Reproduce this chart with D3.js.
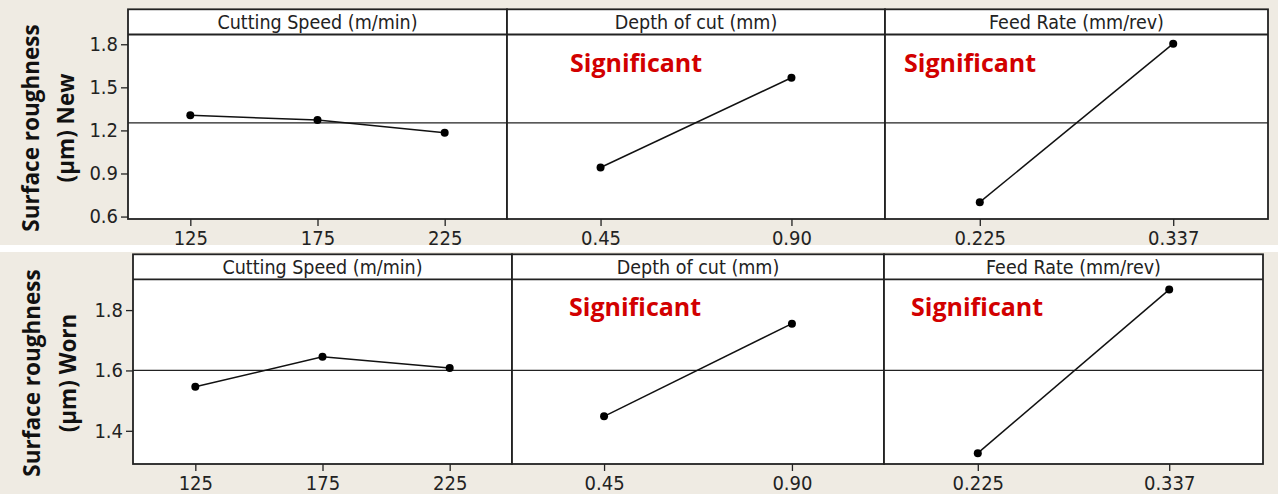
<!DOCTYPE html>
<html>
<head>
<meta charset="utf-8">
<script src="https://cdn.jsdelivr.net/npm/d3@7"></script>
<style>
	body { margin: 0; background: #efebe3; }
	svg { display: block; }
	.hdr { font-family: "DejaVu Sans Condensed", "DejaVu Sans", sans-serif; font-stretch: condensed; font-size: 19.5px; fill: #222; }
	.tick text { font-family: "DejaVu Sans Condensed", "DejaVu Sans", sans-serif; font-stretch: condensed; font-size: 20px; fill: #222; }
	.ytitle { font-family: "Open Sans", sans-serif; font-weight: bold; font-size: 22.5px; fill: #111; }
	.sig { font-family: "Open Sans", sans-serif; font-weight: bold; font-size: 25px; fill: #d20000; }
</style>
</head>
<body>
<svg id="chart" width="1278" height="494"></svg>
<script>
// factor names and their levels
var factors = ["Cutting Speed (m/min)", "Depth of cut (mm)", "Feed Rate (mm/rev)"];
var speedLevels = ["125", "175", "225"];
var depthLevels = ["0.45", "0.90"];
var feedLevels = ["0.225", "0.337"];
var significant = [false, true, true];

// means of surface roughness (um), new tool
var newSpeed = [1.305, 1.272, 1.183];
var newDepth = [0.942, 1.567];
var newFeed = [0.700, 1.804];
var newMean = 1.253;
var newTicks = [0.6, 0.9, 1.2, 1.5, 1.8];

// worn tool
var wornSpeed = [1.546, 1.645, 1.608];
var wornDepth = [1.448, 1.755];
var wornFeed = [1.326, 1.868];
var wornMean = 1.600;
var wornTicks = [1.4, 1.6, 1.8];

var levels = [speedLevels, depthLevels, feedLevels];

var rows = [
	{
		title: ["Surface roughness", "(\u00b5m) New"],
		values: [newSpeed, newDepth, newFeed], mean: newMean, ticks: newTicks,
		domain: [0.583, 1.868],
		edges: [128, 507, 885, 1268], top: 9.3, hdr: 34.5, bottom: 219,
		titleX: [38.5, 74], titleY: 128,
		sigX: [0, 63, 19], sigY: 71.7
	},
	{
		title: ["Surface roughness", "(\u00b5m) Worn"],
		values: [wornSpeed, wornDepth, wornFeed], mean: wornMean, ticks: wornTicks,
		domain: [1.29, 1.902],
		edges: [133, 512, 884, 1263], top: 254.3, hdr: 279.3, bottom: 464,
		titleX: [39.5, 76], titleY: 373,
		sigX: [0, 57, 27], sigY: 316
	}
];

var svg = d3.select("#chart");

// white gap between the two rows
svg.append("rect").attr("x", 0).attr("y", 245).attr("width", 1278).attr("height", 7).attr("fill", "#fff");

function drawRow(row) {
	var g = svg.append("g");
	var y = d3.scaleLinear().domain(row.domain).range([row.bottom, row.hdr]);

	for (var i = 0; i<2; i++) {
		g.append("text")
			.attr("class", "ytitle")
			.attr("text-anchor", "middle")
			.attr("transform", "translate(" + row.titleX[i] + "," + row.titleY + ") rotate(-90)")
			.text(row.title[i]);
	}

	for (var p = 0; p<factors.length; p++) {
		var x0 = row.edges[p];
		var x1 = row.edges[p+1];
		var x = d3.scalePoint().domain(levels[p]).range([x0, x1]).padding(0.49);
		var pg = g.append("g");

		pg.append("rect")
			.attr("x", x0).attr("y", row.top)
			.attr("width", x1-x0).attr("height", row.bottom-row.top)
			.attr("fill", "#fff");

		// x axis
		var xa = pg.append("g")
			.attr("transform", "translate(0," + row.bottom + ")")
			.call(d3.axisBottom(x).tickSize(7).tickPadding(5));
		xa.select(".domain").remove();
		xa.selectAll("line").attr("stroke", "#222").attr("stroke-width", 1.3);

		// y axis only on first panel
		if (p == 0) {
			var ya = pg.append("g")
				.attr("transform", "translate(" + x0 + ",0)")
				.call(d3.axisLeft(y).tickValues(row.ticks).tickFormat(d3.format(".1f")).tickSize(7).tickPadding(3));
			ya.select(".domain").remove();
			ya.selectAll("line").attr("stroke", "#222").attr("stroke-width", 1.3);
		}

		// reference line at overall mean
		pg.append("line")
			.attr("x1", x0).attr("x2", x1)
			.attr("y1", y(row.mean)).attr("y2", y(row.mean))
			.attr("stroke", "#222").attr("stroke-width", 1.3);

		var pts = levels[p].map(function (l, k) { return [x(l), y(row.values[p][k])]; });
		pg.append("path")
			.attr("d", d3.line()(pts))
			.attr("fill", "none")
			.attr("stroke", "#111")
			.attr("stroke-width", 1.5);
		pg.selectAll("circle.pt")
			.data(pts)
			.enter().append("circle")
			.attr("class", "pt")
			.attr("cx", function (d) { return d[0]; })
			.attr("cy", function (d) { return d[1]; })
			.attr("r", 4)
			.attr("fill", "#000");

		if (significant[p]) {
			pg.append("text")
				.attr("class", "sig")
				.attr("x", x0 + row.sigX[p])
				.attr("y", row.sigY)
				.text("Significant");
		}

		// header strip and frame
		pg.append("line")
			.attr("x1", x0).attr("x2", x1)
			.attr("y1", row.hdr).attr("y2", row.hdr)
			.attr("stroke", "#222").attr("stroke-width", 1.8);
		pg.append("text")
			.attr("class", "hdr")
			.attr("x", (x0+x1)/2)
			.attr("y", row.hdr - 5.5)
			.attr("text-anchor", "middle")
			.text(factors[p]);
		pg.append("rect")
			.attr("x", x0).attr("y", row.top)
			.attr("width", x1-x0).attr("height", row.bottom-row.top)
			.attr("fill", "none")
			.attr("stroke", "#222").attr("stroke-width", 1.8);
	}
}

rows.forEach(drawRow);
</script>
</body>
</html>
